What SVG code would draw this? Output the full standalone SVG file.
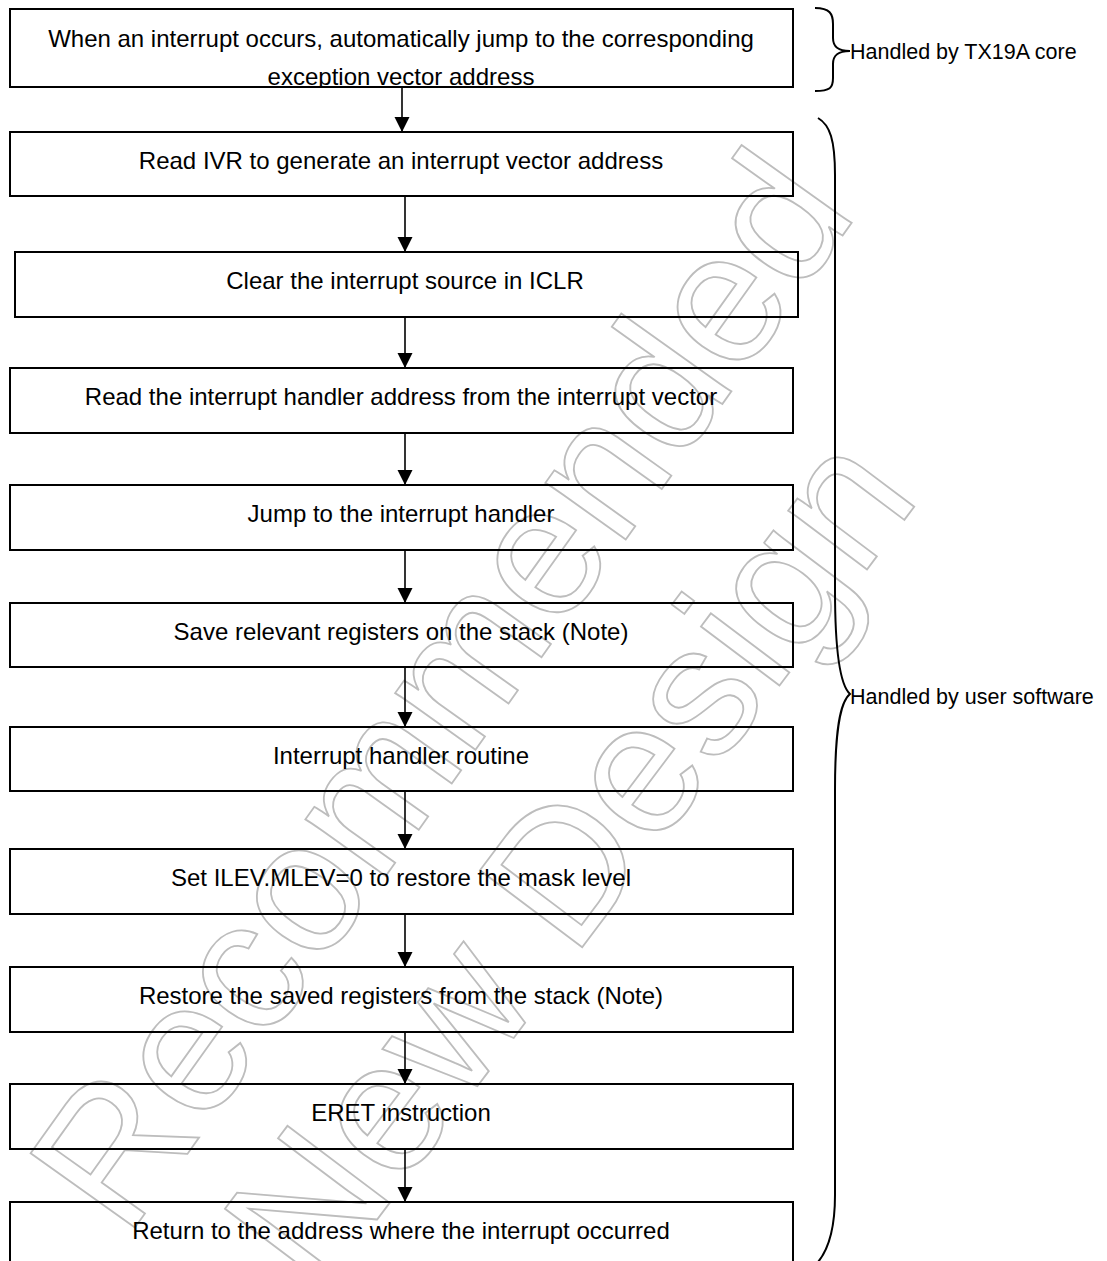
<svg xmlns="http://www.w3.org/2000/svg" width="1107" height="1261" viewBox="0 0 1107 1261">
<defs>
<style>
.box{fill:none;stroke:#000;stroke-width:2}
.t{font-family:"Liberation Sans",Arial,sans-serif;font-size:24px;fill:#000;text-anchor:middle}
.lbl{font-family:"Liberation Sans",Arial,sans-serif;font-size:21.5px;fill:#000}
.wm{font-family:"Liberation Sans",Arial,sans-serif;font-size:186px;fill:none;stroke:#bdbdbd;stroke-width:1.8}
.arr{stroke:#000;stroke-width:1.6;fill:none;marker-end:url(#ah)}
.brace{fill:none;stroke:#000;stroke-width:2}
</style>
<marker id="ah" markerWidth="16" markerHeight="16" viewBox="0 0 16 16" refX="15" refY="8" orient="auto" markerUnits="userSpaceOnUse">
<path d="M0,0.5 L15,8 L0,15.5 Z" fill="#000"/>
</marker>
<clipPath id="c1"><rect x="10" y="9" width="783" height="78"/></clipPath>
</defs>
<rect width="1107" height="1261" fill="#fff"/>
<g id="watermark">
<text class="wm" transform="translate(126,1240) rotate(-54.5)">Recommended</text>
<text class="wm" transform="translate(318,1298) rotate(-53)">New Design</text>
</g>
<g id="connectors">
<line class="arr" x1="402" y1="87" x2="402" y2="132"/>
<line class="arr" x1="405" y1="196" x2="405" y2="252"/>
<line class="arr" x1="405" y1="317" x2="405" y2="368"/>
<line class="arr" x1="405" y1="433" x2="405" y2="485"/>
<line class="arr" x1="405" y1="550" x2="405" y2="603"/>
<line class="arr" x1="405" y1="667" x2="405" y2="727"/>
<line class="arr" x1="405" y1="791" x2="405" y2="849"/>
<line class="arr" x1="405" y1="914" x2="405" y2="967"/>
<line class="arr" x1="405" y1="1032" x2="405" y2="1084"/>
<line class="arr" x1="405" y1="1149" x2="405" y2="1202"/>
</g>
<g id="n1">
<g clip-path="url(#c1)">
<text class="t" x="401" y="47">When an interrupt occurs, automatically jump to the corresponding</text>
<text class="t" x="401" y="85">exception vector address</text>
</g>
<rect class="box" x="10" y="9" width="783" height="78"/>
</g>
<g id="n2"><rect class="box" x="10" y="132" width="783" height="64"/><text class="t" x="401" y="169">Read IVR to generate an interrupt vector address</text></g>
<g id="n3"><rect class="box" x="15" y="252" width="783" height="65"/><text class="t" x="405" y="289">Clear the interrupt source in ICLR</text></g>
<g id="n4"><rect class="box" x="10" y="368" width="783" height="65"/><text class="t" x="401" y="405">Read the interrupt handler address from the interrupt vector</text></g>
<g id="n5"><rect class="box" x="10" y="485" width="783" height="65"/><text class="t" x="401" y="522">Jump to the interrupt handler</text></g>
<g id="n6"><rect class="box" x="10" y="603" width="783" height="64"/><text class="t" x="401" y="640">Save relevant registers on the stack (Note)</text></g>
<g id="n7"><rect class="box" x="10" y="727" width="783" height="64"/><text class="t" x="401" y="764">Interrupt handler routine</text></g>
<g id="n8"><rect class="box" x="10" y="849" width="783" height="65"/><text class="t" x="401" y="886">Set ILEV.MLEV=0 to restore the mask level</text></g>
<g id="n9"><rect class="box" x="10" y="967" width="783" height="65"/><text class="t" x="401" y="1004">Restore the saved registers from the stack (Note)</text></g>
<g id="n10"><rect class="box" x="10" y="1084" width="783" height="65"/><text class="t" x="401" y="1121">ERET instruction</text></g>
<g id="n11"><rect class="box" x="10" y="1202" width="783" height="65"/><text class="t" x="401" y="1239">Return to the address where the interrupt occurred</text></g>
<g id="brace-core">
<path class="brace" d="M815,8 C830,8 833,14 833,24 L833,38 C833,47 838,51 850,51 C838,51 833,55 833,64 L833,78 C833,88 830,91 815,91"/>
<text class="lbl" x="850" y="59">Handled by TX19A core</text>
</g>
<g id="brace-user">
<path class="brace" d="M818,118 C830,125 835,140 835,175 L835,590 C835,650 840,685 850,694 C840,702 835,730 835,790 L835,1195 C835,1230 828,1250 818,1262"/>
<text class="lbl" x="850" y="704">Handled by user software</text>
</g>
</svg>
